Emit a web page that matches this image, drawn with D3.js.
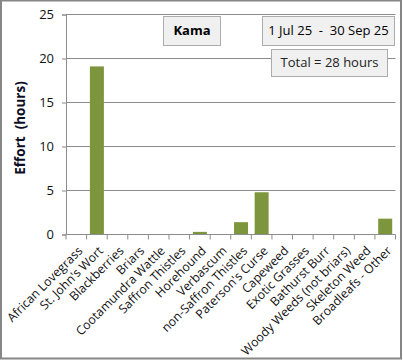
<!DOCTYPE html>
<html><head><meta charset="utf-8">
<script src="https://cdn.jsdelivr.net/npm/d3@7"></script>
<style>
html,body{margin:0;padding:0;background:#fff;}
svg{display:block;}
text{font-family:"Open Sans","Liberation Sans",sans-serif;white-space:pre;}
</style></head>
<body>
<script>
const categories = ["African Lovegrass","St. John's Wort","Blackberries","Briars","Cootamundra Wattle","Saffron Thistles","Horehound","Verbascum","non-Saffron Thistles","Paterson's Curse","Capeweed","Exotic Grasses","Bathurst Burr","Woody Weeds (not briars)","Skeleton Weed","Broadleafs - Other"];
const values = [0, 19.1, 0, 0, 0, 0, 0.3, 0, 1.4, 4.8, 0, 0, 0, 0, 0, 1.8];
const yTicks = [0, 5, 10, 15, 20, 25];
const titleText = "Kama";
const dateText = "1 Jul 25  -  30 Sep 25";
const totalText = "Total = 28 hours";
const yLabel = "Effort  (hours)";

(function(){
const W = 403, H = 360;
const svg = d3.select("body").append("svg").attr("width", W).attr("height", H);

svg.append("rect").attr("x", 1).attr("y", 0.5).attr("width", 400).attr("height", 358)
  .attr("fill", "#fff").attr("stroke", "#868686").attr("stroke-width", 2);

const pL = 66, pR = 395.5, pT = 14.5, pB = 234.5;
const x = d3.scaleBand().domain(categories).range([pL, pR]).paddingInner(0.32).paddingOuter(0.16);
const y = d3.scaleLinear().domain([0, 25]).range([pB, pT]);

svg.append("g").selectAll("line").data(yTicks.filter(d => d > 0)).join("line")
  .attr("x1", pL).attr("x2", pR).attr("y1", d => y(d)).attr("y2", d => y(d))
  .attr("stroke", "#8c8c8c").attr("stroke-width", 1);

const yAxis = d3.axisLeft(y).tickValues(yTicks).tickSize(4).tickPadding(8);
const gy = svg.append("g").attr("transform", `translate(${pL},0)`).call(yAxis);
gy.select(".domain").attr("stroke", "#8c8c8c");
gy.selectAll(".tick line").attr("stroke", "#8c8c8c");
gy.selectAll(".tick text").attr("font-size", 13).attr("fill", "#111")
  .attr("font-family", "'Open Sans',sans-serif");

svg.append("g").selectAll("rect").data(values).join("rect")
  .attr("x", (d, i) => x(categories[i]))
  .attr("width", x.bandwidth())
  .attr("y", d => y(d))
  .attr("height", d => y(0) - y(d))
  .attr("fill", "#7d953d");

const xEdge = d3.scaleLinear().domain([0, categories.length]).range([pL, pR]);
const gx = svg.append("g");
gx.append("line").attr("x1", pL).attr("x2", pR).attr("y1", pB).attr("y2", pB)
  .attr("stroke", "#8c8c8c");
gx.selectAll("line.tk").data(d3.range(categories.length + 1)).join("line").attr("class", "tk")
  .attr("x1", d => xEdge(d)).attr("x2", d => xEdge(d)).attr("y1", pB).attr("y2", pB + 5)
  .attr("stroke", "#8c8c8c");
gx.selectAll("text").data(categories).join("text")
  .attr("transform", d => `translate(${x(d) + x.bandwidth() / 2 + 4},${pB + 14}) rotate(-45)`)
  .attr("text-anchor", "end").attr("dy", "0.35em")
  .attr("font-size", 12.3).attr("fill", "#111")
  .text(d => d);

svg.append("text").attr("transform", `translate(25,128) rotate(-90)`)
  .attr("text-anchor", "middle").attr("font-size", 13.5).attr("font-weight", "bold")
  .attr("fill", "#0d0d26").text(yLabel);

function box(x0, y0, w, h, txt, bold, color) {
  svg.append("rect").attr("x", x0 + 0.5).attr("y", y0 + 0.5).attr("width", w).attr("height", h)
    .attr("fill", "#f0f0f0").attr("stroke", "#acacac").attr("stroke-width", 1);
  svg.append("text").attr("x", x0 + w / 2 + 0.5).attr("y", y0 + h / 2 + 1)
    .attr("text-anchor", "middle").attr("dominant-baseline", "middle")
    .attr("font-size", 13).attr("font-weight", bold ? "bold" : "normal")
    .attr("fill", color).text(txt);
}
box(163, 16, 57, 29, titleText, true, "#000");
box(262, 16, 132, 29, dateText, false, "#000");
box(271, 49, 116, 27, totalText, false, "#222");
})();
</script>
</body></html>
